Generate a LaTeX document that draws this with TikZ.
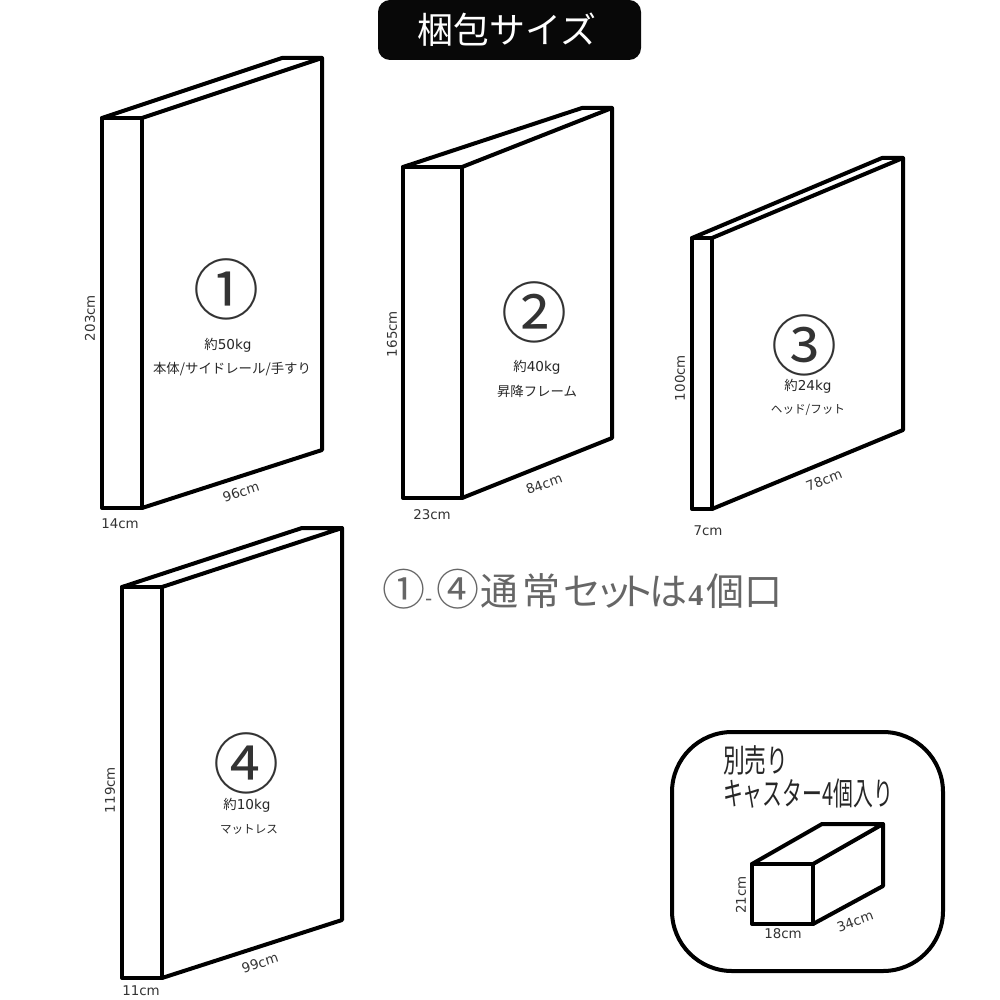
\documentclass[tikz,border=0pt]{standalone}
\usepackage{fontspec}
\setmainfont{Noto Sans CJK JP}
\newfontfamily\lat{DejaVu Sans}
\newfontfamily\serifd{Liberation Serif}
\newcommand{\fs}[1]{\fontsize{#1}{#1}\selectfont}
\newcommand{\kg}[1]{{\lat\fs{13.6}#1}}
\tikzset{
  boxline/.style={draw=black,line width=4pt,line join=round,line cap=round},
  dimlabel/.style={inner sep=0pt,text=black!80,font=\lat\fs{13.4}},
  infolabel/.style={inner sep=0pt,text=black!85,font=\fs{13.4}},
  smallinfo/.style={inner sep=0pt,text=black!85,font=\fs{11.6}},
  bignum/.style={inner sep=0pt,text=black!80,font=\fs{66}},
}
\begin{document}
\begin{tikzpicture}[x=1pt,y=-1pt]
\useasboundingbox (0,0) rectangle (1000,1000);
% title
\node (titlebar) [fill=black!97,rounded corners=12pt,minimum width=263pt,minimum height=60pt,inner sep=0pt] at (509.5,30) {};
\node (titletext) [inner sep=0pt,text=white,font=\fs{36}] at (507,30) {梱包サイズ};
% box 1
\draw[boxline] (102,118) rectangle (142,508);
\draw[boxline] (102,118) -- (282,58) -- (322,58) -- (142,118);
\draw[boxline] (142,508) -- (322,450) -- (322,58);
\node (n1) [bignum] at (226,289) {①};
\node (w1) [infolabel] at (228,345) {約\kg{50kg}};
\node (t1) [infolabel] at (232,369) {本体/サイドレール/手すり};
\node (h1) [dimlabel,rotate=90] at (90,318) {203cm};
\node (d1) [dimlabel,rotate=18] at (241,492) {96cm};
\node (b1) [dimlabel] at (120,524) {14cm};
% box 2
\draw[boxline] (403,167) rectangle (462,498);
\draw[boxline] (403,167) -- (582,108) -- (612,108) -- (462,167);
\draw[boxline] (462,498) -- (612,438) -- (612,108);
\node (n2) [bignum] at (534,312) {②};
\node (w2) [infolabel] at (537,367) {約\kg{40kg}};
\node (t2) [infolabel] at (537,391) {昇降フレーム};
\node (h2) [dimlabel,rotate=90] at (392,334) {165cm};
\node (d2) [dimlabel,rotate=20] at (544,484) {84cm};
\node (b2) [dimlabel] at (432,515) {23cm};
% box 3
\draw[boxline] (692,238) rectangle (712,509);
\draw[boxline] (692,238) -- (882,158) -- (903,158) -- (712,238);
\draw[boxline] (712,509) -- (903,430) -- (903,158);
\node (n3) [bignum] at (804,345) {③};
\node (w3) [infolabel] at (808,386) {約\kg{24kg}};
\node (t3) [smallinfo] at (808,410) {ヘッド/フット};
\node (h3) [dimlabel,rotate=90] at (680,378) {100cm};
\node (d3) [dimlabel,rotate=22] at (824,480) {78cm};
\node (b3) [dimlabel] at (708,531) {7cm};
% box 4
\draw[boxline] (122,587) rectangle (162,978);
\draw[boxline] (122,587) -- (302,528) -- (342,528) -- (162,587);
\draw[boxline] (162,978) -- (342,920) -- (342,528);
\node (n4) [bignum] at (246,763) {④};
\node (w4) [infolabel] at (247,805) {約\kg{10kg}};
\node (t4) [smallinfo] at (249,829) {マットレス};
\node (h4) [dimlabel,rotate=90] at (110,790) {119cm};
\node (d4) [dimlabel,rotate=18] at (260,963) {99cm};
\node (b4) [dimlabel] at (141,991) {11cm};
% set note
\node (note) [anchor=west,inner sep=0pt,text=black!60,font=\fs{38}] at (382,589) {{\fs{43}①}{\lat\fs{20}-}\kern4pt{\fs{43}④}\kern1pt 通\kern4pt 常\kern3pt セ\kern-6pt ッ\kern-16pt ト\kern-6pt は\kern1pt{\serifd\bfseries\fs{30}4}\kern3pt 個\kern0pt 口};
% caster
\draw[draw=black,line width=4pt,rounded corners=60pt] (672,732) rectangle (943,971);
\node (c1) [anchor=west,inner sep=0pt,text=black!85,font=\fs{32},xscale=.68,transform shape] at (723,760) {別売り};
\node (c2) [anchor=west,inner sep=0pt,text=black!85,font=\fs{32},xscale=.62,transform shape] at (723,794) {キャスター4個入り};
\draw[boxline] (752,864) rectangle (813,924);
\draw[boxline] (752,864) -- (822,824) -- (883,824) -- (813,864);
\draw[boxline] (813,924) -- (883,886) -- (883,824);
\node (c3) [dimlabel,rotate=90] at (741,895) {21cm};
\node (c4) [dimlabel] at (783,934) {18cm};
\node (c5) [dimlabel,rotate=20] at (855,921) {34cm};
\end{tikzpicture}
\end{document}
